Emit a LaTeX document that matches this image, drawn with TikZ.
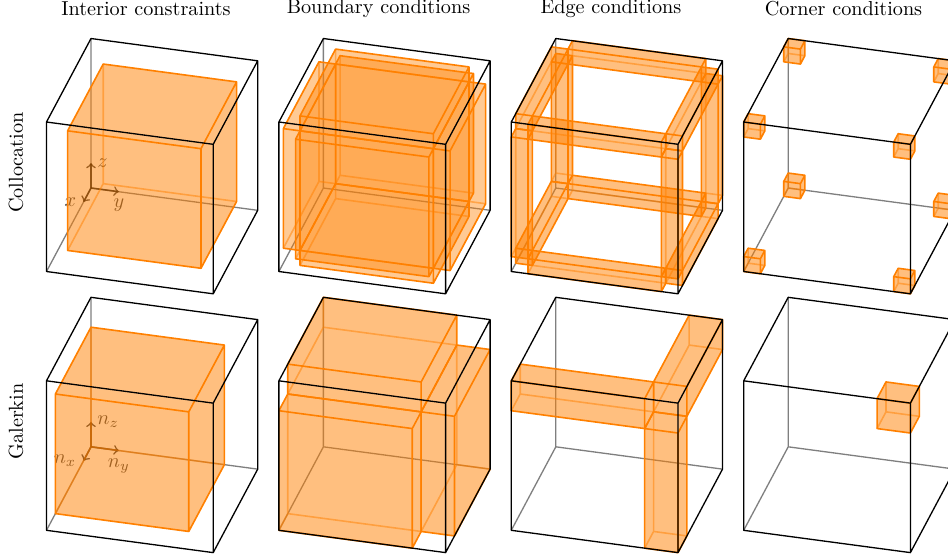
\documentclass[tikz,border=0pt]{standalone}
\usepackage{tikz}
\usetikzlibrary{positioning}
\definecolor{boxedge}{HTML}{FF8000}

\tikzset{
  cubeaxes/.style={x={(-22.03pt,-41.33pt)},y={(82.52pt,-11.04pt)},z={(0pt,74pt)}},
  cubefrontline/.style={black,line width=0.65pt,line join=round},
  cubebackline/.style={black,opacity=0.5,line width=0.65pt},
  boxfill/.style={fill=boxedge,fill opacity=0.5},
  boxfrontline/.style={boxedge,line width=0.8pt,line join=round},
  boxbackline/.style={boxedge,opacity=0.5,line width=0.8pt},
  axisline/.style={->,black,opacity=0.75,line width=0.8pt},
  axislabel/.style={text opacity=0.75,inner sep=1pt}
}

\newcommand{\cubeback}{
  \draw[cubebackline] (0,0,0) -- (1,0,0) (0,0,0) -- (0,1,0) (0,0,0) -- (0,0,1);
}
\newcommand{\cubefront}{
  \draw[cubefrontline] (0,0,1) -- (0,1,1) -- (0,1,0) -- (1,1,0) -- (1,0,0) -- (1,0,1) -- cycle
    (1,1,1) -- (0,1,1) (1,1,1) -- (1,0,1) (1,1,1) -- (1,1,0);
}
% box from x0 x1 y0 y1 z0 z1
\newcommand{\orangebox}[6]{
  \fill[boxfill] (#1,#3,#6) -- (#1,#4,#6) -- (#1,#4,#5) -- (#2,#4,#5) -- (#2,#3,#5) -- (#2,#3,#6) -- cycle;
  \draw[boxbackline] (#1,#3,#5) -- (#2,#3,#5) (#1,#3,#5) -- (#1,#4,#5) (#1,#3,#5) -- (#1,#3,#6);
  \draw[boxfrontline] (#1,#3,#6) -- (#1,#4,#6) -- (#1,#4,#5) -- (#2,#4,#5) -- (#2,#3,#5) -- (#2,#3,#6) -- cycle
    (#2,#4,#6) -- (#1,#4,#6) (#2,#4,#6) -- (#2,#3,#6) (#2,#4,#6) -- (#2,#4,#5);
}

\begin{document}
\begin{tikzpicture}[x=0.495pt,y=-0.495pt]
  \useasboundingbox (0,0) rectangle (948,558);
  \clip (0,0) rectangle (948,558);

  % Column and row titles
  \node (titleinterior) at (146,9) {Interior constraints};
  \node (titleboundary) at (378.5,9) {Boundary conditions};
  \node (titleedge) at (611,9) {Edge conditions};
  \node (titlecorner) at (843.5,9) {Corner conditions};
  \node[rotate=90] (rowcolloc) at (16,162.5) {Collocation};
  \node[rotate=90] (rowgalerkin) at (16,421.5) {Galerkin};

  % Collocation row
  \begin{scope}[shift={(91,188)},cubeaxes]
    \cubeback
    \coordinate (colo) at (0,0,0);
    \coordinate (colx) at (0.167,0,0);
    \coordinate (coly) at (0,0.167,0);
    \coordinate (colz) at (0,0,0.167);
    \draw[axisline] (colo) -- (colx);
    \draw[axisline] (colo) -- (coly);
    \draw[axisline] (colo) -- (colz);
    \node[axislabel,left=2.5pt of colx] (labelx) {$x$};
    \node[axislabel,below=2.5pt of coly] (labely) {$y$};
    \node[axislabel,right=2pt of colz] (labelz) {$z$};
    \orangebox{.1}{.9}{.1}{.9}{.1}{.9}
    \cubefront
  \end{scope}

  \begin{scope}[shift={(323.4,188)},cubeaxes,boxfill/.style={fill=boxedge,fill opacity=0.42}]
    \cubeback
    \foreach \a/\b in {0/.1,.9/1}{
      \orangebox{\a}{\b}{.1}{.9}{.1}{.9}
      \orangebox{.1}{.9}{\a}{\b}{.1}{.9}
      \orangebox{.1}{.9}{.1}{.9}{\a}{\b}
    }
    \cubefront
  \end{scope}

  \begin{scope}[shift={(555.8,188)},cubeaxes]
    \cubeback
    \foreach \a/\b in {0/.1,.9/1}{
      \foreach \c/\d in {0/.1,.9/1}{
        \orangebox{.1}{.9}{\a}{\b}{\c}{\d}
        \orangebox{\a}{\b}{.1}{.9}{\c}{\d}
        \orangebox{\a}{\b}{\c}{\d}{.1}{.9}
      }
    }
    \cubefront
  \end{scope}

  \begin{scope}[shift={(788.2,188)},cubeaxes]
    \cubeback
    \foreach \a/\b in {0/.1,.9/1}{
      \foreach \c/\d in {0/.1,.9/1}{
        \foreach \e/\f in {0/.1,.9/1}{
          \orangebox{\a}{\b}{\c}{\d}{\e}{\f}
        }
      }
    }
    \cubefront
  \end{scope}

  % Galerkin row
  \begin{scope}[shift={(91,446.8)},cubeaxes]
    \cubeback
    \coordinate (galo) at (0,0,0);
    \coordinate (galx) at (0.167,0,0);
    \coordinate (galy) at (0,0.167,0);
    \coordinate (galz) at (0,0,0.167);
    \draw[axisline] (galo) -- (galx);
    \draw[axisline] (galo) -- (galy);
    \draw[axisline] (galo) -- (galz);
    \node[axislabel,left=2.5pt of galx] (labelnx) {$n_x$};
    \node[axislabel,below=3pt of galy] (labelny) {$n_y$};
    \node[axislabel,right=2pt of galz] (labelnz) {$n_z$};
    \orangebox{0}{.8}{0}{.8}{0}{.8}
    \cubefront
  \end{scope}

  \begin{scope}[shift={(323.4,446.8)},cubeaxes]
    \cubeback
    \orangebox{.8}{1}{0}{.8}{0}{.8}
    \orangebox{0}{.8}{.8}{1}{0}{.8}
    \orangebox{0}{.8}{0}{.8}{.8}{1}
    \cubefront
  \end{scope}

  \begin{scope}[shift={(555.8,446.8)},cubeaxes]
    \cubeback
    \orangebox{.8}{1}{0}{.8}{.8}{1}
    \orangebox{0}{.8}{.8}{1}{.8}{1}
    \orangebox{.8}{1}{.8}{1}{0}{.8}
    \cubefront
  \end{scope}

  \begin{scope}[shift={(788.2,446.8)},cubeaxes]
    \cubeback
    \orangebox{.8}{1}{.8}{1}{.8}{1}
    \cubefront
  \end{scope}
\end{tikzpicture}
\end{document}
